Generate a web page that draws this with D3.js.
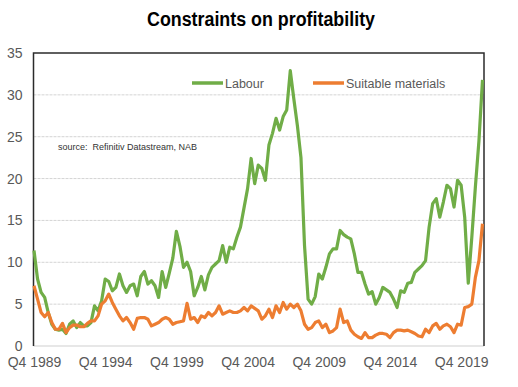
<!DOCTYPE html>
<html>
<head>
<meta charset="utf-8">
<script src="https://cdn.jsdelivr.net/npm/d3@7"></script>
<style>
  body { margin: 0; background: #fff; }
  svg { display: block; font-family: "Liberation Sans", Arial, sans-serif; }
</style>
</head>
<body>
<div id="chart"></div>
<script>
// quarterly, Q4 1989 .. Q2 2021
const startYear = 1989;
const quarters = [];
for (let i = 0; i < 127; i++) {
  const q = (3 + i) % 4 + 1;
  const yr = startYear + Math.floor((3 + i) / 4);
  quarters.push("Q" + q + " " + yr);
}

const labour = [
  11.4, 8.0, 6.4, 5.8, 4.0, 2.6, 2.0, 1.9, 2.0, 1.5,
  2.6, 3.0, 2.2, 2.8, 2.4, 2.4, 2.8, 4.8, 4.2, 5.4,
  8.0, 7.7, 6.6, 7.0, 8.6, 7.2, 6.4, 7.2, 7.4, 6.0,
  8.3, 8.9, 7.4, 7.8, 7.2, 5.8, 8.9, 7.0, 8.7, 10.5,
  13.7, 11.9, 9.4, 10.0, 8.9, 6.0, 7.0, 8.3, 6.7, 8.5,
  9.4, 9.8, 10.2, 12.0, 10.0, 11.8, 11.6, 13.0, 14.2, 16.5,
  18.8, 22.4, 19.4, 21.6, 21.2, 19.8, 24.0, 25.4, 27.2, 25.8,
  27.4, 28.2, 32.9, 29.5, 26.3, 22.5, 12.0, 5.6, 5.0, 5.9,
  8.6, 8.0, 9.4, 11.0, 11.6, 11.6, 13.8, 13.3, 13.0, 12.8,
  11.0, 8.8, 8.8, 7.4, 6.2, 6.5, 5.0, 5.8, 7.0, 6.7,
  6.4, 5.6, 4.6, 6.6, 6.4, 7.5, 7.6, 8.8, 9.2, 9.6,
  10.2, 14.2, 17.0, 17.6, 15.4, 17.2, 19.2, 18.8, 16.6, 19.8,
  19.2, 15.4, 7.5, 13.0, 19.0, 24.5, 31.8
];

const materials = [
  7.2, 5.6, 4.0, 3.5, 4.0, 2.8, 2.0, 2.0, 2.7, 1.6,
  2.2, 2.5, 2.5, 2.3, 2.3, 2.7, 3.0, 3.0, 3.6, 5.0,
  5.4, 6.2, 5.2, 4.4, 3.6, 3.0, 3.4, 2.8, 2.0, 3.3,
  3.4, 3.4, 3.2, 2.4, 2.6, 2.8, 3.2, 3.4, 3.2, 2.6,
  2.8, 2.9, 3.0, 5.1, 3.2, 3.4, 2.8, 3.6, 3.4, 4.0,
  3.6, 4.0, 4.8, 3.8, 4.0, 4.2, 4.0, 4.0, 4.2, 4.6,
  4.2, 4.8, 4.5, 4.2, 3.2, 3.6, 4.4, 3.4, 4.8, 4.0,
  5.2, 4.4, 5.0, 4.6, 5.0, 4.2, 2.6, 2.0, 2.2, 2.8,
  3.0, 2.2, 2.6, 1.6, 1.8, 2.2, 4.4, 2.8, 3.0, 1.9,
  1.4, 1.1, 0.9, 1.6, 1.0, 1.0, 1.3, 1.5, 1.5, 1.4,
  1.0, 1.6, 1.9, 1.9, 1.8, 1.9, 1.7, 1.5, 1.2, 1.1,
  2.0, 1.6, 2.4, 2.7, 2.0, 2.4, 2.6, 2.3, 1.6, 2.6,
  2.5, 4.6, 4.7, 5.0, 8.2, 10.2, 14.6
];

const xTickLabels = ["Q4 1989", "Q4 1994", "Q4 1999", "Q4 2004", "Q4 2009", "Q4 2014", "Q4 2019"];
const yTicks = [0, 5, 10, 15, 20, 25, 30, 35];

const series = [
  {name: "Labour", values: labour, color: "#70ad47"},
  {name: "Suitable materials", values: materials, color: "#ed7d31"}
];

const width = 518;
const height = 387;
const plotLeft = 33.5, plotRight = 484, plotTop = 53, plotBottom = 346;

const svg = d3.select("#chart")
  .append("svg")
  .attr("width", width)
  .attr("height", height);

const x = d3.scaleLinear()
  .domain([0, quarters.length - 1])
  .range([plotLeft + 0.5, plotRight - 1.5]);

const y = d3.scaleLinear()
  .domain([0, 35])
  .range([plotBottom, plotTop]);

// title (narrowed to the original's width)
svg.append("text")
  .attr("x", 261)
  .attr("y", 26)
  .attr("text-anchor", "middle")
  .attr("textLength", 228)
  .attr("lengthAdjust", "spacingAndGlyphs")
  .style("font-weight", "bold")
  .style("font-size", "20px")
  .attr("fill", "#000")
  .text("Constraints on profitability");

// gridlines
svg.append("g")
  .selectAll("line")
  .data(yTicks.filter(d => d > 0 && d < 35))
  .enter()
  .append("line")
  .attr("x1", plotLeft)
  .attr("x2", plotRight)
  .attr("y1", d => y(d))
  .attr("y2", d => y(d))
  .attr("stroke", "#d4d4d4")
  .attr("stroke-width", 1)
  .attr("stroke-dasharray", "3,1");

// bottom axis line
svg.append("line")
  .attr("x1", plotLeft).attr("x2", plotRight)
  .attr("y1", y(0)).attr("y2", y(0))
  .attr("stroke", "#d0d0d0")
  .attr("stroke-width", 1.2);

// box: top, left, right
svg.append("path")
  .attr("d", `M${plotLeft},${plotBottom} V${plotTop} H${plotRight} V${plotBottom}`)
  .attr("fill", "none")
  .attr("stroke", "#2b2b2b")
  .attr("stroke-width", 1.5);

// y axis labels
const yAxis = d3.axisLeft(y).tickValues(yTicks).tickSize(0).tickPadding(11);
const gy = svg.append("g")
  .attr("transform", `translate(${plotLeft},0)`)
  .call(yAxis);
gy.select(".domain").remove();
gy.selectAll("text")
  .style("font-size", "14px")
  .style("font-family", "'Liberation Sans', Arial, sans-serif")
  .attr("fill", "#595959");

// x axis labels
const tickIdx = xTickLabels.map(l => quarters.indexOf(l));
const xAxis = d3.axisBottom(x)
  .tickValues(tickIdx)
  .tickFormat(i => quarters[i])
  .tickSize(0)
  .tickPadding(11);
const gx = svg.append("g")
  .attr("transform", `translate(0,${plotBottom})`)
  .call(xAxis);
gx.select(".domain").remove();
gx.selectAll("text")
  .style("font-size", "14px")
  .style("font-family", "'Liberation Sans', Arial, sans-serif")
  .attr("fill", "#595959");

// lines
const line = d3.line()
  .x((d, i) => x(i))
  .y(d => y(d));

svg.append("g")
  .selectAll("path")
  .data(series)
  .enter()
  .append("path")
  .attr("d", d => line(d.values))
  .attr("fill", "none")
  .attr("stroke", d => d.color)
  .attr("stroke-width", 3.2)
  .attr("stroke-linejoin", "round");

// legend
const legendPos = [{x: 192, tx: 225}, {x: 313, tx: 346}];
const lg = svg.append("g");
series.forEach((s, i) => {
  lg.append("line")
    .attr("x1", legendPos[i].x).attr("x2", legendPos[i].x + 31)
    .attr("y1", 83).attr("y2", 83)
    .attr("stroke", s.color)
    .attr("stroke-width", 3.5);
  lg.append("text")
    .attr("x", legendPos[i].tx)
    .attr("y", 87.5)
    .style("font-size", "12.5px")
    .attr("fill", "#595959")
    .text(s.name);
});

// source note
svg.append("text")
  .attr("x", 58)
  .attr("y", 150)
  .style("font-size", "9px")
  .style("white-space", "pre")
  .attr("fill", "#333")
  .text("source:  Refinitiv Datastream, NAB");
</script>
</body>
</html>
